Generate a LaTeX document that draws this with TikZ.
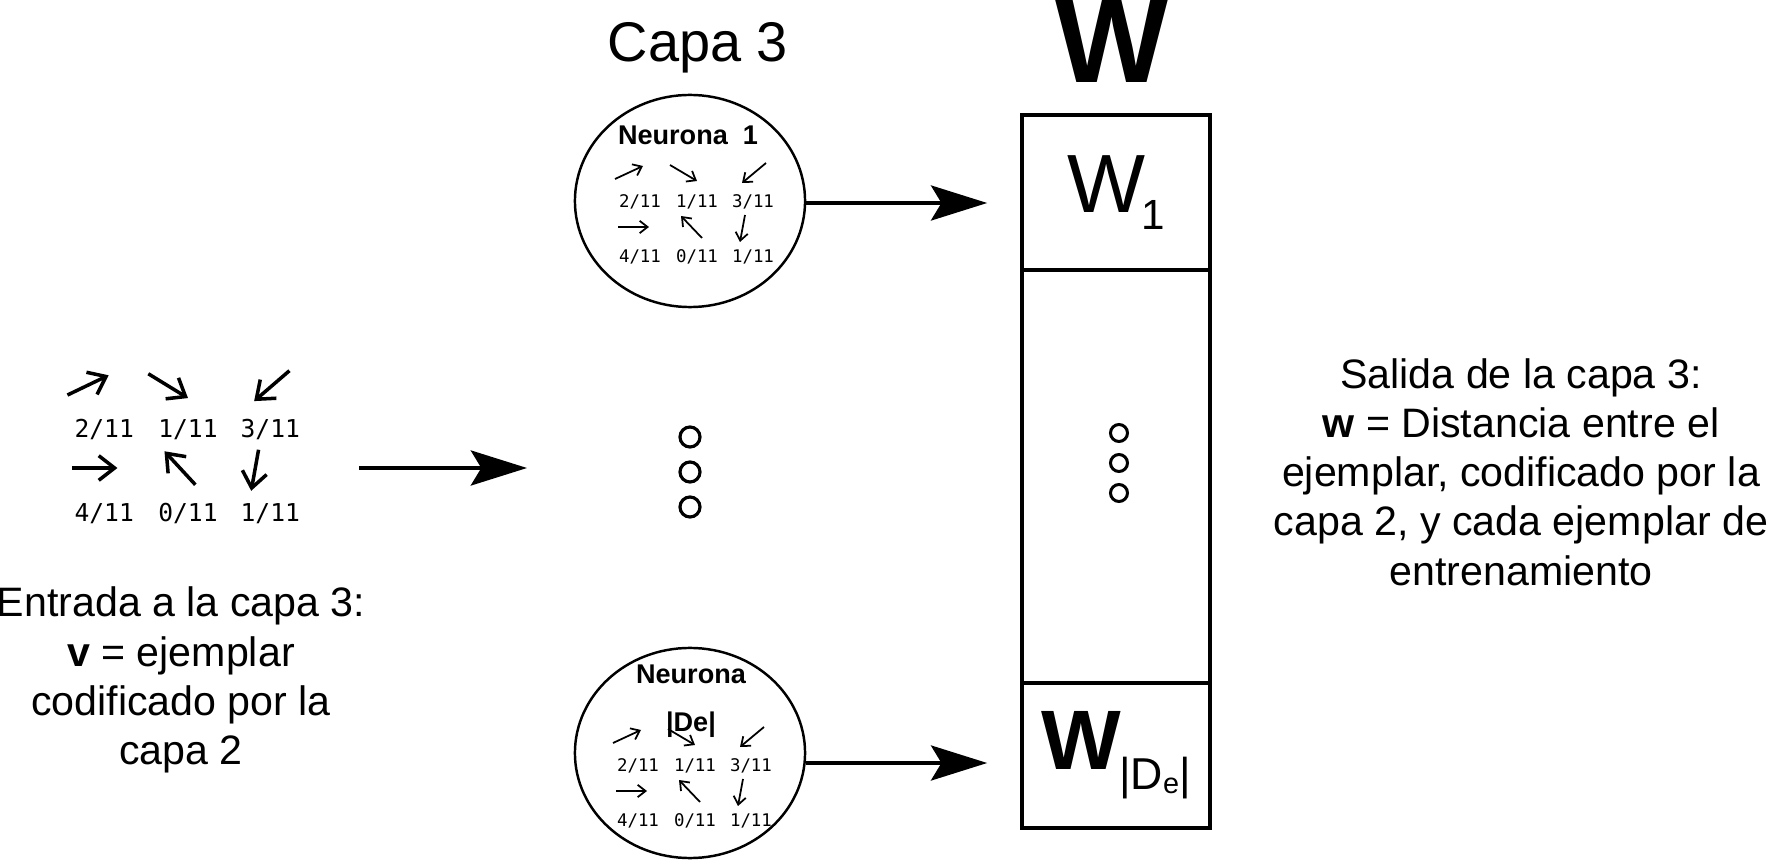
\documentclass[tikz,border=0pt]{standalone}
\usepackage{fontspec}
\setmainfont{Liberation Sans}
\setmonofont{DejaVu Sans Mono}
\usetikzlibrary{arrows.meta,shapes.geometric}

% one coded sample: six direction arrows, six values
\newcommand\codvec[4]{%
  \begin{scope}[shift={(#2)},#3]
    \draw[vecarrow] (-82,-23) -- (-54,-36);
    \draw[vecarrow] (-27,-37) -- (0,-21);
    \draw[vecarrow] (69,-39) -- (45,-19);
    \draw[vecarrow] (-79,25) -- (-48,25);
    \draw[vecarrow] (5,36) -- (-16,14);
    \draw[vecarrow] (48,13) -- (43,40);
    \node[font=#4] (#1-a) at (-57,0) {2/11};
    \node[font=#4] (#1-b) at (0,0) {1/11};
    \node[font=#4] (#1-c) at (56,0) {3/11};
    \node[font=#4] (#1-d) at (-57,55) {4/11};
    \node[font=#4] (#1-e) at (0,55) {0/11};
    \node[font=#4] (#1-f) at (56,55) {1/11};
  \end{scope}}

\tikzset{
  neuron/.style={draw, ellipse, line width=0.7pt, minimum width=2.3cm, minimum height=2.12cm, inner sep=0pt},
  cell/.style={draw, rectangle, line width=1pt, minimum width=1.88cm, inner sep=0pt},
  dot/.style={draw, circle, inner sep=0pt},
  vecarrow/.style={-{Straight Barb[length=0pt 4.5,width=0pt 7]}},
  bigarrow/.style={line width=0.9pt, -{Stealth[length=16pt,width=10pt,inset=3pt]}},
  sidetext/.style={align=center, font=\fontsize{11.7}{14}\selectfont},
}

\begin{document}
\begin{tikzpicture}[x=0.01cm, y=-0.01cm]
  \useasboundingbox (0,0) rectangle (1768,867);

  %%%%% entrada %%%%%
  \codvec{in}{188,430}{xscale=1.47,yscale=1.52,line width=1pt}{\ttfamily\fontsize{7}{8}\selectfont}
  \node[sidetext] (entrada) at (181,680) {Entrada a la capa 3:\\\textbf{v} = ejemplar\\codificado por la\\capa 2};
  \coordinate (vin) at (359,468);
  \coordinate (vout) at (527,468);
  \draw[bigarrow] (vin) -- (vout);

  %%%%% capa 3 %%%%%
  \node[anchor=base, font=\fontsize{15.9}{18}\selectfont] (capa) at (698,62) {Capa 3};

  \node[neuron] (n1) at (690,201) {};
  \node[font=\fontsize{7.7}{9}\selectfont\bfseries] (n1-lbl) at (688,135) {Neurona\ \ 1};
  \codvec{n1}{697,202}{line width=0.5pt}{\ttfamily\fontsize{4.95}{6}\selectfont}

  \node[dot, line width=0.9pt, minimum size=0.2cm] (d1) at (690,437) {};
  \node[dot, line width=0.9pt, minimum size=0.2cm] (d2) at (690,472) {};
  \node[dot, line width=0.9pt, minimum size=0.2cm] (d3) at (690,507) {};

  \node[neuron, minimum height=2.1cm] (nD) at (690,753) {};
  \node[align=center, font=\fontsize{7.7}{13.6}\selectfont\bfseries] (nD-lbl) at (691,701) {Neurona\\|De|};
  \codvec{nD}{695,766}{line width=0.5pt}{\ttfamily\fontsize{4.95}{6}\selectfont}

  %%%%% salida W %%%%%
  \node[anchor=base, font=\fontsize{34}{36}\selectfont\bfseries] (wlbl) at (1112,83) {W};

  \node[cell, minimum height=1.55cm] (w1) at (1116,192.5)
    {\fontsize{23.5}{26}\selectfont W\kern-1pt\raisebox{-4.8pt}{\fontsize{12}{13}\selectfont 1}};
  \node[cell, minimum height=4.13cm] (wm) at (1116,476.5) {};
  \node[cell, minimum height=1.45cm] (wD) at (1116,755.5)
    {\fontsize{24}{26}\selectfont\bfseries W\kern-0.5pt\raisebox{-5.7pt}{\fontsize{12.7}{13}\selectfont\mdseries |D\raisebox{-1pt}{\fontsize{8.2}{9}\selectfont e}|}};

  \node[dot, line width=0.85pt, minimum size=0.17cm] (e1) at (1119,433) {};
  \node[dot, line width=0.85pt, minimum size=0.17cm] (e2) at (1119,463) {};
  \node[dot, line width=0.85pt, minimum size=0.17cm] (e3) at (1119,493) {};

  \draw[bigarrow, shorten >=0.33cm] ([yshift=-0.02cm]n1.east) -- ([yshift=-0.02cm]n1.east -| w1.west);
  \draw[bigarrow, shorten >=0.33cm] ([yshift=-0.1cm]nD.east) -- ([yshift=-0.1cm]nD.east -| wD.west);

  \node[sidetext] (salida) at (1521,472) {Salida de la capa 3:\\\textbf{w} = Distancia entre el\\ejemplar, codificado por la\\capa 2, y cada ejemplar de\\entrenamiento};
\end{tikzpicture}
\end{document}
